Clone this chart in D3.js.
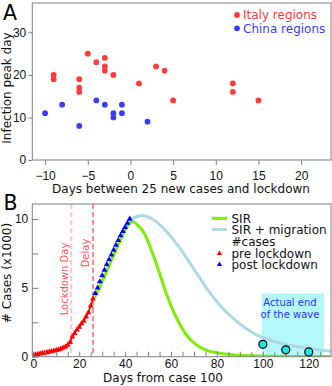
<!DOCTYPE html>
<html>
<head>
<meta charset="utf-8">
<script src="https://cdn.jsdelivr.net/npm/d3@7"></script>
<style>
  body { margin: 0; background: #fff; }
  svg { display: block; font-family: "DejaVu Sans", Verdana, sans-serif; }
  .axis path, .axis line { stroke: #808080; }
  .axis text { fill: #111; font-size: 12px; }
</style>
</head>
<body>
<svg id="chart" width="332" height="386"></svg>
<script>
// ---- panel A data: days between 25 new cases and lockdown vs peak day
var italyX = [-9, -9, -6, -6, -6, -5, -4, -3, -3, -3, -2, 1, 3, 4, 5, 12, 12, 15];
var italyY = [20, 19, 19, 17, 16, 25, 23, 24, 22, 21, 20, 18, 22, 21, 14, 18, 16, 14];
var chinaX = [-10, -8, -6, -4, -3, -2, -2, -1, -1, 2];
var chinaY = [11, 13, 8, 14, 13, 11, 10, 13, 11, 9];
var ticksAX = [-10, -5, 0, 5, 10, 15, 20];
var ticksAY = [0, 10, 20, 30];

// ---- panel B data (cases x1000 vs days from case 100)
var preDays = [0, 1, 2, 3, 4, 5, 6, 7, 8, 9, 10, 11, 12, 13, 14, 15, 16, 17, 18, 19, 20, 21, 22, 23, 24, 25, 26];
var preCases = [0.10, 0.14, 0.18, 0.22, 0.25, 0.28, 0.31, 0.35, 0.39, 0.43, 0.47, 0.51, 0.57, 0.64, 0.72, 0.85, 1.05, 1.45, 1.7, 1.95, 2.15, 2.4, 2.6, 2.9, 3.2, 3.7, 4.2];
var postDays = [27, 28, 29, 30, 31, 32, 33, 34, 35, 36, 37, 38, 39, 40, 41, 42];
var postCases = [4.6, 5.0, 5.45, 5.9, 6.3, 6.7, 7.05, 7.4, 7.75, 8.1, 8.45, 8.8, 9.1, 9.4, 9.7, 10.0];
var sirDays = [26.5, 28, 30, 32, 34, 36, 38, 40, 42, 43, 44, 46, 48, 50, 52, 54, 56, 58, 60, 62, 64, 66, 68, 70, 72, 75, 78, 81, 85, 90, 95, 100, 110, 120, 130];
var sirCases = [4.25, 4.75, 5.45, 6.2, 7.0, 7.75, 8.5, 9.2, 9.7, 9.78, 9.75, 9.45, 9.05, 8.35, 7.5, 6.55, 5.55, 4.55, 3.7, 2.95, 2.3, 1.75, 1.33, 1.0, 0.76, 0.5, 0.35, 0.26, 0.16, 0.1, 0.06, 0.04, 0.02, 0.01, 0.01];
var migDays = [42, 44, 46, 47.5, 50, 52, 55, 58, 61, 64, 67, 70, 73, 76, 79, 82, 85, 88, 91, 94, 97, 100, 105, 110, 115, 120, 125, 130];
var migCases = [9.85, 10.1, 10.22, 10.26, 10.15, 9.98, 9.6, 9.1, 8.5, 7.85, 7.1, 6.35, 5.6, 4.85, 4.2, 3.6, 3.1, 2.65, 2.25, 1.9, 1.6, 1.4, 1.1, 0.88, 0.72, 0.6, 0.48, 0.4];
var endDays = [100, 110, 120];
var endCases = [0.9, 0.5, 0.35];
var lockdownDay = 16.5, delayDay = 26;
var waveBox = [99.5, 126.7, 4.6]; // x from, x to, height
var ticksBXLabel = [0, 20, 40, 60, 80, 100, 120];
var ticksBX = d3.range(0, 130, 5);
var ticksBY = [0, 2.5, 5, 7.5, 10];

var svg = d3.select("#chart");

// ================= panel A =================
var xA = d3.scaleLinear().domain([-11.5, 23.5]).range([32.3, 331]);
var yA = d3.scaleLinear().domain([0, 36.9]).range([160, 3]);

svg.append("rect")
  .attr("x", xA.range()[0]).attr("y", yA.range()[1])
  .attr("width", xA.range()[1] - xA.range()[0])
  .attr("height", yA.range()[0] - yA.range()[1])
  .attr("fill", "none").attr("stroke", "#808080");

svg.append("g").attr("class", "axis")
  .attr("transform", "translate(0,160)")
  .call(d3.axisBottom(xA).tickValues(ticksAX).tickSize(5).tickSizeOuter(0).tickPadding(6))
  .call(g => g.select(".domain").remove());
svg.append("g").attr("class", "axis")
  .attr("transform", "translate(32.3,0)")
  .call(d3.axisLeft(yA).tickValues(ticksAY).tickSize(4).tickSizeOuter(0).tickPadding(2))
  .call(g => g.select(".domain").remove());

svg.selectAll(".italy").data(italyX).enter().append("circle")
  .attr("cx", d => xA(d)).attr("cy", (d, i) => yA(italyY[i]))
  .attr("r", 2.9).attr("fill", "#ff3b3b");
svg.selectAll(".china").data(chinaX).enter().append("circle")
  .attr("cx", d => xA(d)).attr("cy", (d, i) => yA(chinaY[i]))
  .attr("r", 2.9).attr("fill", "#3b3bff");

// legend A
var legA = [["Italy regions", "#ff3b3b"], ["China regions", "#3b3bff"]];
legA.forEach(function(l, i) {
  svg.append("circle").attr("cx", 237).attr("cy", 15 + i * 13.3).attr("r", 2.9).attr("fill", l[1]);
  svg.append("text").attr("x", 243).attr("y", 19.3 + i * 13.3)
    .attr("font-size", 12).attr("fill", l[1]).text(l[0]);
});

svg.append("text").attr("x", 3).attr("y", 20).attr("font-size", 20.5).text("A");
svg.append("text").attr("transform", "translate(10.5,88) rotate(-90)")
  .attr("text-anchor", "middle").attr("font-size", 12).attr("fill", "#111")
  .text("Infection peak day");
svg.append("text").attr("x", 181).attr("y", 192.5)
  .attr("text-anchor", "middle").attr("font-size", 12).attr("fill", "#111")
  .text("Days between 25 new cases and lockdown");

// ================= panel B =================
var xB = d3.scaleLinear().domain([-0.45, 129.7]).range([32.3, 331]);
var yB = d3.scaleLinear().domain([0, 11.09]).range([356.7, 204]);

svg.append("defs").append("clipPath").attr("id", "clipB")
  .append("rect").attr("x", 32.3).attr("y", 204).attr("width", 331 - 32.3).attr("height", 356.7 - 204);

var plotB = svg.append("g").attr("clip-path", "url(#clipB)");

// actual end of the wave box
plotB.append("rect")
  .attr("x", xB(waveBox[0])).attr("y", yB(waveBox[2]))
  .attr("width", xB(waveBox[1]) - xB(waveBox[0]))
  .attr("height", yB(0) - yB(waveBox[2]))
  .attr("fill", "#b4f8fc");

var lineB = d3.line().x(d => xB(d[0])).y(d => yB(d[1])).curve(d3.curveMonotoneX);

plotB.append("path")
  .datum(migDays.map((d, i) => [d, migCases[i]]))
  .attr("d", lineB).attr("fill", "none").attr("stroke", "#add8e6").attr("stroke-width", 3);
plotB.append("path")
  .datum(sirDays.map((d, i) => [d, sirCases[i]]))
  .attr("d", lineB).attr("fill", "none").attr("stroke", "#7cf000").attr("stroke-width", 3);

// lockdown + delay lines
plotB.append("line").attr("x1", xB(lockdownDay)).attr("x2", xB(lockdownDay))
  .attr("y1", 204).attr("y2", 356.7)
  .attr("stroke", "#ffc4cc").attr("stroke-width", 2).attr("stroke-dasharray", "5,3");
plotB.append("line").attr("x1", xB(delayDay)).attr("x2", xB(delayDay))
  .attr("y1", 204).attr("y2", 356.7)
  .attr("stroke", "#ff8c8c").attr("stroke-width", 2).attr("stroke-dasharray", "5,3");

// pre lockdown cases
plotB.append("path")
  .datum(preDays.map((d, i) => [d, preCases[i]]))
  .attr("d", d3.line().x(d => xB(d[0])).y(d => yB(d[1])))
  .attr("fill", "none").attr("stroke", "#ff0000").attr("stroke-width", 1.6);
var tri = d3.symbol().type(d3.symbolTriangle).size(15);
plotB.selectAll(".pre").data(preDays).enter().append("path")
  .attr("d", tri).attr("fill", "#ff0000")
  .attr("transform", (d, i) => "translate(" + xB(d) + "," + yB(preCases[i]) + ")");
plotB.selectAll(".post").data(postDays).enter().append("path")
  .attr("d", tri).attr("fill", "#0000ff")
  .attr("transform", (d, i) => "translate(" + xB(d) + "," + yB(postCases[i]) + ")");

// axes B (ticks inward)
svg.append("rect")
  .attr("x", 32.3).attr("y", 204).attr("width", 331 - 32.3).attr("height", 356.7 - 204)
  .attr("fill", "none").attr("stroke", "#808080");
svg.append("g").attr("class", "axis")
  .attr("transform", "translate(0,356.7)")
  .call(d3.axisBottom(xB).tickValues(ticksBX).tickSize(-5).tickSizeOuter(0).tickPadding(3)
    .tickFormat(d => ticksBXLabel.indexOf(d) >= 0 ? d : ""))
  .call(g => g.select(".domain").remove());
svg.append("g").attr("class", "axis")
  .attr("transform", "translate(32.3,0)")
  .call(d3.axisLeft(yB).tickValues(ticksBY).tickSize(-6).tickSizeOuter(0).tickPadding(4)
    .tickFormat(d => d % 5 === 0 ? d : ""))
  .call(g => g.select(".domain").remove());

// end-of-wave circles
svg.selectAll(".endc").data(endDays).enter().append("circle")
  .attr("cx", d => xB(d)).attr("cy", (d, i) => yB(endCases[i]))
  .attr("r", 4).attr("fill", "#22e6e6").attr("stroke", "#000").attr("stroke-width", 1.2);

svg.append("text").attr("x", 290).attr("y", 306).attr("text-anchor", "middle")
  .attr("font-size", 10).attr("fill", "#3030ff").text("Actual end");
svg.append("text").attr("x", 290).attr("y", 318).attr("text-anchor", "middle")
  .attr("font-size", 10).attr("fill", "#3030ff").text("of the wave");

svg.append("text").attr("transform", "translate(" + (xB(lockdownDay) - 3.5) + ",279) rotate(-90)")
  .attr("text-anchor", "middle").attr("font-size", 10).attr("fill", "#ff5a5a").text("Lockdown Day");
svg.append("text").attr("transform", "translate(" + (xB(delayDay) - 4) + ",253) rotate(-90)")
  .attr("text-anchor", "middle").attr("font-size", 10).attr("fill", "#ff5a5a").text("Delay");

// legend B
svg.append("line").attr("x1", 212).attr("x2", 227).attr("y1", 218.3).attr("y2", 218.3)
  .attr("stroke", "#7cf000").attr("stroke-width", 3);
svg.append("line").attr("x1", 212).attr("x2", 227).attr("y1", 229.5).attr("y2", 229.5)
  .attr("stroke", "#add8e6").attr("stroke-width", 3);
svg.append("path").attr("d", d3.symbol().type(d3.symbolTriangle).size(12))
  .attr("fill", "#ff0000").attr("transform", "translate(219.5,253.5)");
svg.append("path").attr("d", d3.symbol().type(d3.symbolTriangle).size(12))
  .attr("fill", "#0000ff").attr("transform", "translate(219.5,264.5)");
var legB = [["SIR", 222.6], ["SIR + migration", 233.8], ["#cases", 245.5], ["pre lockdown", 257.5], ["post lockdown", 268.8]];
legB.forEach(function(l) {
  svg.append("text").attr("x", 231.5).attr("y", l[1]).attr("font-size", 12).attr("fill", "#111").text(l[0]);
});

svg.append("text").attr("x", 3.5).attr("y", 210).attr("font-size", 20.5).text("B");
svg.append("text").attr("transform", "translate(10.5,273) rotate(-90)")
  .attr("text-anchor", "middle").attr("font-size", 12).attr("fill", "#111")
  .text("# Cases (x1000)");
svg.append("text").attr("x", 163).attr("y", 382)
  .attr("text-anchor", "middle").attr("font-size", 12).attr("fill", "#111")
  .text("Days from case 100");
</script>
</body>
</html>
